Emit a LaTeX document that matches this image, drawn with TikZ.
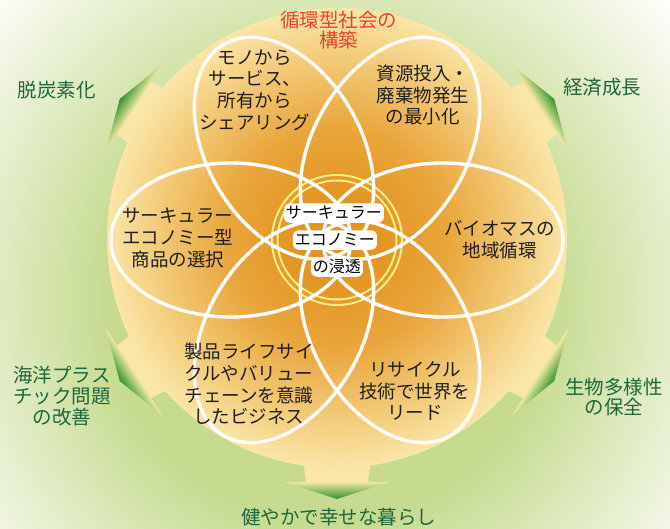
\documentclass[tikz,border=0pt]{standalone}
\usepackage{fontspec}
\setmainfont{Noto Sans CJK JP}
\usetikzlibrary{calc}

\definecolor{discorange}{RGB}{225,144,28}
\definecolor{discwarm}{RGB}{228,150,36}
\definecolor{discmid}{RGB}{233,166,60}
\definecolor{disclight}{RGB}{241,195,108}
\definecolor{discpale}{RGB}{250,230,168}
\definecolor{glowgreen}{RGB}{198,219,144}
\definecolor{arrowgreen}{RGB}{48,146,44}
\definecolor{arrowpale}{RGB}{240,232,164}
\definecolor{labelgreen}{RGB}{28,104,60}
\definecolor{titlered}{RGB}{232,68,46}
\definecolor{ringyellow}{RGB}{250,238,136}

\pgfdeclareradialshading{discshade}{\pgfpoint{0bp}{0bp}}{color(0bp)=(discorange); color(5bp)=(discwarm); color(12bp)=(discmid); color(18bp)=(disclight); color(25bp)=(discpale); color(50bp)=(discpale)}
\pgfdeclareradialshading{glowshade}{\pgfpoint{0bp}{0bp}}{color(0bp)=(glowgreen); color(12bp)=(glowgreen); color(25bp)=(white); color(50bp)=(white)}

\begin{document}
\begin{tikzpicture}[x=1pt,y=1pt]
    \tikzset{petal/.style={draw=white, line width=3.4pt},
        ring/.style={draw=ringyellow, line width=2pt},
        petaltext/.style={align=center, text=black!88, font=\fontsize{18.5}{21.7}\selectfont},
        goaltext/.style={align=center, text=labelgreen, font=\fontsize{19.5}{20.8}\selectfont},
        coreline/.style={fill=white, rounded corners=6pt, inner xsep=2pt, inner ysep=2.5pt, text height=12.5pt, text depth=2pt, font=\fontsize{16}{16}\selectfont},
        arrowstem/.style={fill=discpale},
        arrowhead/.style={top color=arrowpale, bottom color=arrowgreen}}
    
    \coordinate (hub) at (0,0);
    \coordinate (disc_center) at (0,2);
    \coordinate (glow_center) at (-10,-60);
    
    \useasboundingbox (-337,-288) rectangle (333,240);
    
    %background glow
    \begin{scope}
        \clip (-337,-288) rectangle (333,240);
        \fill[white] (-337,-288) rectangle (333,240);
        \shade[shading=glowshade] (glow_center) circle (460);
    \end{scope}
    
    %arrow stems
    \foreach \ang in {0,57,123,-57,-123}{
        \begin{scope}[transform canvas={rotate around={\ang:(hub)}}]
            \fill[arrowstem] (-36,-200) -- (-31,-243) -- (31,-243) -- (36,-200) -- cycle;
        \end{scope}
    }
    
    %disc
    \shade[shading=discshade] (disc_center) circle (230);
    
    %arrow heads
    \foreach \ang in {0,57,123,-57,-123}{
        \begin{scope}[transform canvas={rotate around={\ang:(hub)}}]
            \shade[arrowhead] (-52,-242) -- (52,-242) -- (0,-259) -- cycle;
        \end{scope}
    }
    
    %rings and petals
    \draw[ring] (hub) circle (65);
    \draw[ring] (hub) circle (59.5);
    \foreach \ang in {0,60,...,300}
        \draw[petal, rotate=\ang] (106,0) ellipse (120 and 77);
    
    %petal texts
    \node[petaltext] (sharing) at (-82,150) {モノから\\サービス、\\所有から\\シェアリング};
    \node[petaltext] (resource) at (86,145) {資源投入・\\廃棄物発生\\の最小化};
    \node[petaltext] (biomass) at (163,0) {バイオマスの\\地域循環};
    \node[petaltext] (recycle) at (78,-151) {リサイクル\\技術で世界を\\リード};
    \node[petaltext] (lifecycle) at (-88,-144) {製品ライフサイ\\クルやバリュー\\チェーンを意識\\したビジネス};
    \node[petaltext] (product) at (-159,2) {サーキュラー\\エコノミー型\\商品の選択};
    
    %core
    \node[coreline] (core_top) at (-3,27) {サーキュラー};
    \node[coreline] (core_mid) at (-2,0) {エコノミー};
    \node[coreline] (core_low) at (0,-27) {の浸透};
    
    %goals
    \node[align=center, text=titlered, font=\fontsize{19.5}{19.5}\selectfont] (society) at (2,210) {循環型社会の\\構築};
    \node[goaltext] (decarbon) at (-280,150) {脱炭素化};
    \node[goaltext] (growth) at (265,153) {経済成長};
    \node[goaltext] (biodiv) at (277,-157) {生物多様性\\の保全};
    \node[goaltext] (wellbeing) at (2,-277) {健やかで幸せな暮らし};
    \node[goaltext] (plastic) at (-275,-156) {海洋プラス\\チック問題\\の改善};
\end{tikzpicture}
\end{document}
